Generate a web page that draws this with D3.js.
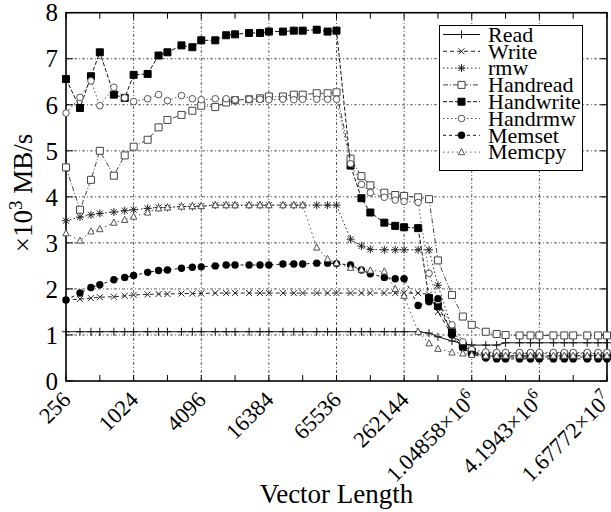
<!DOCTYPE html>
<html lang="en">
<head>
  <meta charset="UTF-8">
  <title>Bandwidth vs Vector Length</title>
  <script src="https://d3js.org/d3.v7.min.js"></script>
  <style>
    body { margin: 0; background: #fff; }
    svg { display: block; font-family: "Liberation Serif", "Times New Roman", Tinos, serif; }
  </style>
</head>
<body>
  <div id="chart"></div>
  <script>
    // vector lengths: 256 .. 2^24, three points per octave
    const lengths = [256, 341, 427, 512, 683, 853, 1024, 1365, 1707, 2048, 2731, 3413,
      4096, 5461, 6827, 8192, 10923, 13653, 16384, 21845, 27307, 32768, 43691, 54613,
      65536, 87381, 109227, 131072, 174763, 218453, 262144, 349525, 436907, 524288,
      699051, 873813, 1048576, 1398101, 1747627, 2097152, 2796203, 3495253, 4194304,
      5592405, 6990507, 8388608, 11184811, 13981013, 16777216];

    // bandwidth, x10^3 MB/s
    const read = [1.07, 1.07, 1.07, 1.07, 1.07, 1.07, 1.07, 1.07, 1.07, 1.07, 1.07, 1.07,
      1.07, 1.07, 1.07, 1.07, 1.07, 1.07, 1.07, 1.07, 1.07, 1.07, 1.07, 1.07,
      1.07, 1.07, 1.07, 1.07, 1.07, 1.07, 1.07, 1.07, 1.04, 0.96, 0.87, 0.81,
      0.78, 0.78, 0.78, 0.83, 0.83, 0.83, 0.83, 0.83, 0.83, 0.83, 0.83, 0.83, 0.83];
    const write = [1.76, 1.78, 1.80, 1.82, 1.83, 1.85, 1.87, 1.88, 1.89, 1.89, 1.90, 1.90,
      1.90, 1.91, 1.91, 1.91, 1.91, 1.91, 1.91, 1.91, 1.91, 1.91, 1.91, 1.91,
      1.91, 1.91, 1.91, 1.91, 1.91, 1.91, 1.91, 1.91, 1.88, 1.50, 1.00, 0.72,
      0.60, 0.55, 0.53, 0.52, 0.52, 0.52, 0.52, 0.52, 0.52, 0.52, 0.52, 0.52, 0.52];
    const rmw = [3.48, 3.56, 3.61, 3.64, 3.67, 3.70, 3.72, 3.75, 3.77, 3.77, 3.79, 3.79,
      3.80, 3.82, 3.82, 3.82, 3.82, 3.82, 3.82, 3.82, 3.82, 3.82, 3.82, 3.82,
      3.82, 3.08, 2.93, 2.86, 2.85, 2.85, 2.85, 2.85, 2.85, 2.08, 1.15, 0.75,
      0.64, 0.60, 0.60, 0.60, 0.60, 0.60, 0.60, 0.60, 0.60, 0.60, 0.60, 0.60, 0.60];
    const handread = [4.64, 3.72, 4.37, 5.00, 4.46, 4.90, 5.09, 5.24, 5.51, 5.67, 5.78, 5.87,
      5.98, 5.95, 6.05, 6.10, 6.12, 6.14, 6.18, 6.18, 6.22, 6.22, 6.25, 6.25,
      6.27, 4.83, 4.45, 4.25, 4.09, 4.04, 4.02, 3.99, 3.95, 2.62, 1.87, 1.40,
      1.22, 1.07, 1.02, 1.00, 0.99, 0.99, 0.99, 0.99, 0.99, 0.99, 0.99, 0.99, 0.99];
    const handwrite = [6.56, 5.93, 6.62, 7.14, 6.22, 6.15, 6.65, 6.67, 7.07, 7.14, 7.29, 7.25,
      7.40, 7.40, 7.51, 7.53, 7.56, 7.56, 7.59, 7.59, 7.61, 7.61, 7.63, 7.59,
      7.61, 4.68, 3.97, 3.66, 3.44, 3.37, 3.34, 3.32, 1.80, 1.63, 1.05, 0.77,
      0.64, 0.55, 0.55, 0.55, 0.55, 0.55, 0.55, 0.55, 0.55, 0.55, 0.55, 0.55, 0.55];
    const handrmw = [5.82, 6.16, 6.52, 5.98, 6.38, 6.15, 6.07, 6.13, 6.22, 6.09, 6.20, 6.13,
      6.11, 6.13, 6.13, 6.11, 6.12, 6.12, 6.11, 6.12, 6.11, 6.12, 6.12, 6.12,
      6.12, 4.72, 4.27, 4.09, 3.99, 3.93, 3.90, 3.88, 2.34, 1.75, 1.22, 0.85,
      0.68, 0.63, 0.62, 0.62, 0.62, 0.62, 0.62, 0.62, 0.62, 0.62, 0.62, 0.62, 0.62];
    const memset = [1.76, 1.91, 2.03, 2.09, 2.20, 2.25, 2.29, 2.36, 2.40, 2.41, 2.45, 2.47,
      2.48, 2.50, 2.52, 2.52, 2.52, 2.52, 2.52, 2.54, 2.54, 2.54, 2.56, 2.56,
      2.55, 2.52, 2.41, 2.33, 2.25, 2.22, 2.22, 1.64, 1.72, 1.79, 1.00, 0.72,
      0.58, 0.50, 0.48, 0.48, 0.48, 0.48, 0.48, 0.48, 0.48, 0.48, 0.48, 0.48, 0.48];
    const memcpy = [3.21, 3.05, 3.25, 3.30, 3.44, 3.50, 3.57, 3.66, 3.75, 3.77, 3.79, 3.80,
      3.80, 3.82, 3.82, 3.82, 3.82, 3.82, 3.82, 3.82, 3.82, 3.82, 2.90, 2.65,
      2.56, 2.46, 2.42, 2.40, 2.38, 2.00, 1.85, 1.07, 0.82, 0.70, 0.62, 0.60,
      0.57, 0.55, 0.55, 0.55, 0.55, 0.55, 0.55, 0.55, 0.55, 0.55, 0.55, 0.55, 0.55];

    const xTicks = [256, 1024, 4096, 16384, 65536, 262144, 1048576, 4194304, 16777216];
    const xTickLabels = ['256', '1024', '4096', '16384', '65536', '262144',
      '1.04858×10^6', '4.1943×10^6', '1.67772×10^7'];
    const yTicks = [0, 1, 2, 3, 4, 5, 6, 7, 8];

    const series = [
      { name: 'Read',      values: read,      marker: 'plus',     dash: null,      color: '#111' },
      { name: 'Write',     values: write,     marker: 'cross',    dash: '4,3',     color: '#222' },
      { name: 'rmw',       values: rmw,       marker: 'star',     dash: '1.5,2.5', color: '#222' },
      { name: 'Handread',  values: handread,  marker: 'square',   dash: '5,2,1,2', color: '#444' },
      { name: 'Handwrite', values: handwrite, marker: 'fsquare',  dash: '4,2',     color: '#111' },
      { name: 'Handrmw',   values: handrmw,   marker: 'circle',   dash: '1.5,2.5', color: '#555' },
      { name: 'Memset',    values: memset,    marker: 'fcircle',  dash: '3,3',     color: '#111' },
      { name: 'Memcpy',    values: memcpy,    marker: 'triangle', dash: '1.5,3',   color: '#555' }
    ];

    const W = 611, H = 512;
    const pLeft = 66, pRight = 607, pTop = 12.7, pBottom = 381;

    const svg = d3.select('#chart').append('svg').attr('width', W).attr('height', H);

    const x = d3.scaleLog().base(2).domain([256, 16777216]).range([pLeft, pRight]);
    const y = d3.scaleLinear().domain([0, 8]).range([pBottom, pTop]);

    // grid
    svg.append('g').selectAll('line')
      .data(xTicks.slice(1, -1)).join('line')
      .attr('x1', d => x(d)).attr('x2', d => x(d))
      .attr('y1', pBottom).attr('y2', pTop)
      .attr('stroke', '#333').attr('stroke-width', 0.8).attr('stroke-dasharray', '3,2,1,2');
    svg.append('g').selectAll('line')
      .data(yTicks.slice(1, -1)).join('line')
      .attr('x1', pLeft).attr('x2', pRight)
      .attr('y1', d => y(d)).attr('y2', d => y(d))
      .attr('stroke', '#333').attr('stroke-width', 0.8).attr('stroke-dasharray', '3,2,1,2');

    // ticks on all four sides (every power of two along x)
    const pow2 = d3.range(8, 25).map(e => Math.pow(2, e));
    const tk = svg.append('g').attr('stroke', '#000').attr('stroke-width', 1);
    pow2.forEach(v => {
      tk.append('line').attr('x1', x(v)).attr('x2', x(v)).attr('y1', pBottom).attr('y2', pBottom - 6);
      tk.append('line').attr('x1', x(v)).attr('x2', x(v)).attr('y1', pTop).attr('y2', pTop + 6);
    });
    yTicks.forEach(v => {
      tk.append('line').attr('x1', pLeft).attr('x2', pLeft + 7).attr('y1', y(v)).attr('y2', y(v));
      tk.append('line').attr('x1', pRight).attr('x2', pRight - 7).attr('y1', y(v)).attr('y2', y(v));
    });

    svg.append('rect')
      .attr('x', pLeft).attr('y', pTop)
      .attr('width', pRight - pLeft).attr('height', pBottom - pTop)
      .attr('fill', 'none').attr('stroke', '#000').attr('stroke-width', 1.6);

    // y tick labels
    svg.append('g').selectAll('text')
      .data(yTicks).join('text')
      .attr('x', 58).attr('y', d => y(d)).attr('dy', '0.35em')
      .attr('text-anchor', 'end').style('font-size', '25px')
      .text(d => d);

    // x tick labels, rotated
    const xl = svg.append('g').selectAll('text')
      .data(xTicks).join('text')
      .attr('text-anchor', 'end').style('font-size', '22.5px')
      .attr('transform', d => `translate(${x(d) + 6},${401}) rotate(-45)`);
    xl.each(function(d, i) {
      const parts = xTickLabels[i].split('^');
      const t = d3.select(this);
      t.append('tspan').text(parts[0]);
      if (parts[1]) t.append('tspan').attr('dy', -9).style('font-size', '16px').text(parts[1]);
    });

    // axis titles
    svg.append('text')
      .attr('x', (pLeft + pRight) / 2).attr('y', 503)
      .attr('text-anchor', 'middle').style('font-size', '27px')
      .text('Vector Length');
    const yt = svg.append('text')
      .attr('transform', `translate(32,${193}) rotate(-90)`)
      .attr('text-anchor', 'middle').style('font-size', '27px');
    yt.append('tspan').text('×10');
    yt.append('tspan').attr('dy', -10).style('font-size', '19px').text('3');
    yt.append('tspan').attr('dy', 10).text(' MB/s');

    function markerPath(kind) {
      switch (kind) {
        case 'plus': return 'M-4,0H4M0,-4V4';
        case 'cross': return 'M-3,-3L3,3M-3,3L3,-3';
        case 'star': return 'M-4,0H4M0,-4V4M-3,-3L3,3M-3,3L3,-3';
        case 'square': case 'fsquare': return 'M-3.5,-3.5H3.5V3.5H-3.5Z';
        case 'triangle': return 'M0,-3.6L3.2,2.6H-3.2Z';
      }
      return null;
    }

    function drawMarker(g, kind, color) {
      if (kind === 'circle') {
        g.append('circle').attr('r', 3.3).attr('fill', '#fff').attr('stroke', color).attr('stroke-width', 1);
      } else if (kind === 'fcircle') {
        g.append('circle').attr('r', 3.7).attr('fill', '#000');
      } else {
        const filled = kind === 'fsquare';
        const open = kind === 'square' || kind === 'triangle';
        g.append('path').attr('d', markerPath(kind))
          .attr('fill', filled ? '#000' : (open ? '#fff' : 'none'))
          .attr('stroke', filled ? '#000' : color).attr('stroke-width', 1);
      }
    }

    const line = d3.line().x((d, i) => x(lengths[i])).y(d => y(d));

    series.forEach(s => {
      const g = svg.append('g');
      g.append('path').datum(s.values)
        .attr('d', line)
        .attr('fill', 'none')
        .attr('stroke', s.color).attr('stroke-width', 1)
        .attr('stroke-dasharray', s.dash);
      g.selectAll('g.m').data(s.values).join('g')
        .attr('class', 'm')
        .attr('transform', (d, i) => `translate(${x(lengths[i])},${y(d)})`)
        .each(function() { drawMarker(d3.select(this), s.marker, s.color); });
    });

    // legend
    const lg = svg.append('g');
    lg.append('rect').attr('x', 439.5).attr('y', 25.5).attr('width', 143).attr('height', 145)
      .attr('fill', '#fff').attr('stroke', '#000').attr('stroke-width', 1);
    series.forEach((s, i) => {
      const ry = 34.5 + i * 16.8;
      lg.append('line').attr('x1', 443).attr('x2', 480).attr('y1', ry).attr('y2', ry)
        .attr('stroke', s.color).attr('stroke-width', 1).attr('stroke-dasharray', s.dash);
      const m = lg.append('g').attr('transform', `translate(461.5,${ry})`);
      drawMarker(m, s.marker, s.color);
      lg.append('text').attr('x', 488).attr('y', ry).attr('dy', '0.33em')
        .style('font-size', '22px').text(s.name);
    });
  </script>
</body>
</html>
